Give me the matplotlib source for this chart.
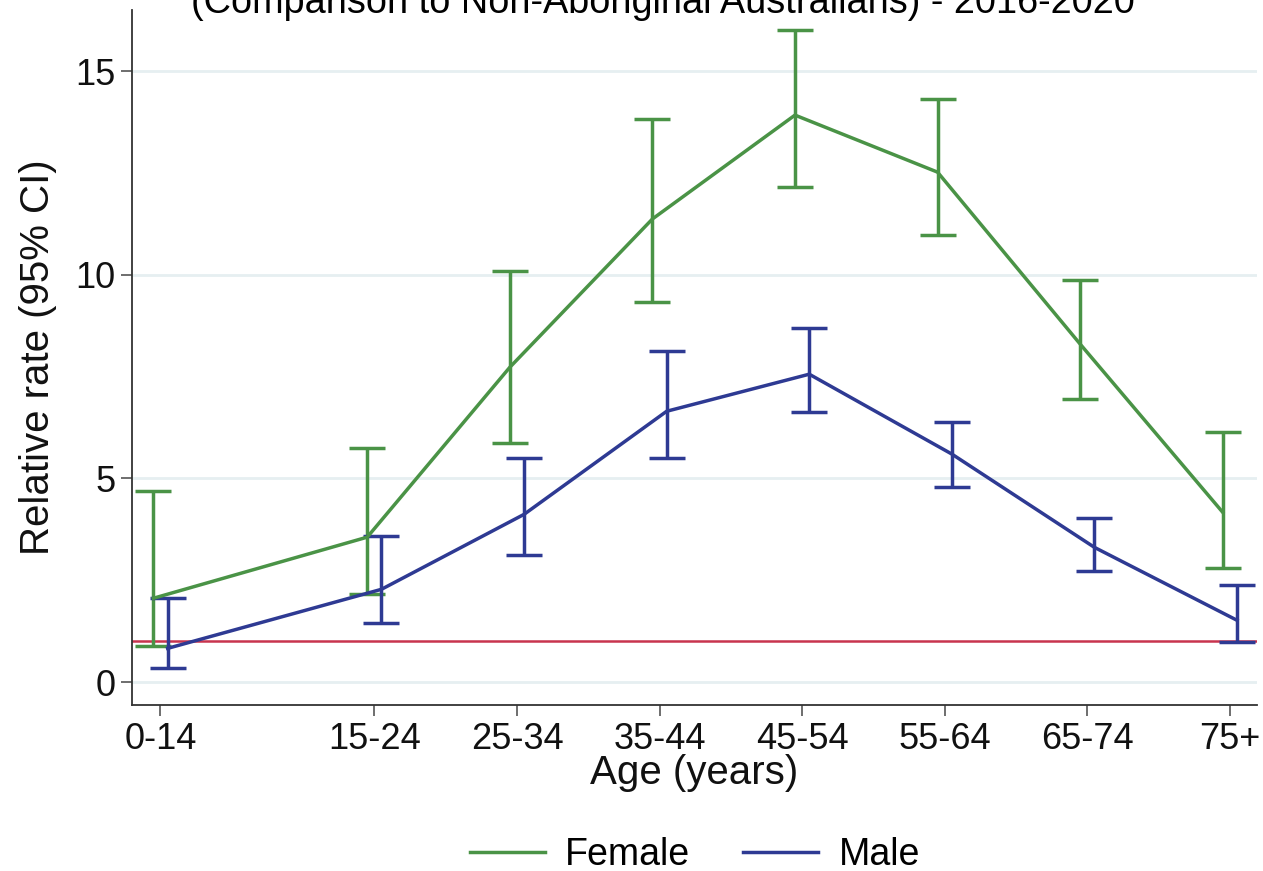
import numpy as np
import matplotlib
matplotlib.use("Agg")
import matplotlib.pyplot as plt

plt.rcParams["font.family"] = ["Liberation Sans", "DejaVu Sans"]

age_groups = ["0-14", "15-24", "25-34", "35-44", "45-54", "55-64", "65-74", "75+"]
age_pos = [5, 20, 30, 40, 50, 60, 70, 80]

female_rr = [2.06, 3.56, 7.73, 11.37, 13.92, 12.52, 8.30, 4.17]
female_lo = [0.88, 2.16, 5.87, 9.33, 12.15, 10.97, 6.95, 2.80]
female_hi = [4.69, 5.74, 10.09, 13.82, 16.00, 14.31, 9.87, 6.14]

male_rr = [0.83, 2.28, 4.12, 6.65, 7.56, 5.60, 3.31, 1.52]
male_lo = [0.34, 1.45, 3.12, 5.50, 6.63, 4.79, 2.72, 0.98]
male_hi = [2.06, 3.58, 5.50, 8.13, 8.69, 6.38, 4.03, 2.38]

reference_rr = 1.0

GREEN = "#4a9346"
BLUE = "#2e3a93"
RED = "#c8344e"


def main():
    fig = plt.figure(figsize=(12.63, 8.71), dpi=100)
    ax = fig.add_axes([0.1045, 0.1906, 0.8907, 0.7979])

    x = np.array(age_pos, dtype=float)
    series = [
        ("Female", GREEN, x - 0.5, female_rr, female_lo, female_hi),
        ("Male", BLUE, x + 0.5, male_rr, male_lo, male_hi),
    ]
    for label, color, xs, rr, lo, hi in series:
        rr = np.array(rr)
        yerr = [rr - np.array(lo), np.array(hi) - rr]
        ax.errorbar(
            xs, rr, yerr=yerr,
            color=color, linewidth=2.5,
            elinewidth=2.5, capsize=13, capthick=2.5,
            label=label, zorder=3,
        )

    ax.axhline(reference_rr, color=RED, linewidth=1.8, zorder=2)

    ax.set_xlim(3.0, 81.9)
    ax.set_ylim(-0.56, 16.5)
    ax.set_xticks(age_pos)
    ax.set_xticklabels(age_groups)
    ax.set_yticks([0, 5, 10, 15])

    ax.yaxis.grid(True, color="#e6eff1", linewidth=2)
    ax.set_axisbelow(True)
    for side in ["top", "right"]:
        ax.spines[side].set_visible(False)
    for side in ["left", "bottom"]:
        ax.spines[side].set_color("#333333")
        ax.spines[side].set_linewidth(1.3)
    ax.tick_params(axis="both", length=8, width=1.2, color="#555555",
                   labelsize=26, labelcolor="#111111", pad=4)

    ax.set_xlabel("Age (years)", fontsize=29, labelpad=-2, color="#111111")
    ax.set_ylabel("Relative rate (95% CI)", fontsize=29, labelpad=13, color="#111111")

    fig.text(0.525, 1 - 13 / 871, "(Comparison to Non-Aboriginal Australians) - 2016-2020",
             ha="center", va="baseline", fontsize=27.3, color="black")

    handles, labels = ax.get_legend_handles_labels()
    handles = [plt.Line2D([], [], color=h[0].get_color(), linewidth=2.5) for h in handles]
    fig.legend(handles, labels, loc="center", bbox_to_anchor=(0.55, 0.018),
               ncol=2, frameon=False, fontsize=27, handlelength=2.0,
               columnspacing=1.4, handletextpad=0.55)

    fig.savefig("out.png", dpi=100)
    plt.close(fig)


if __name__ == "__main__":
    main()
